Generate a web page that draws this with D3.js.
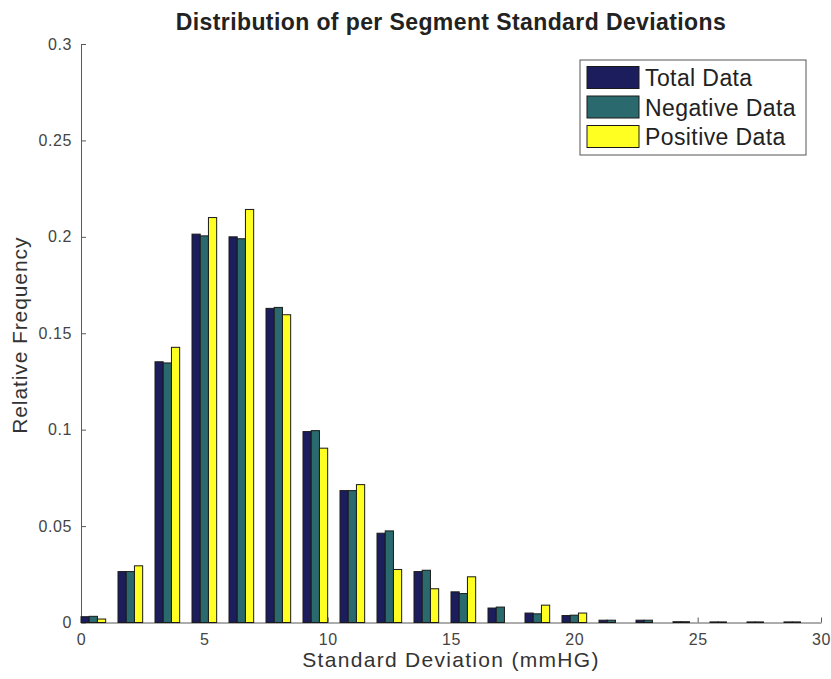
<!DOCTYPE html>
<html>
<head>
<meta charset="utf-8">
<script src="https://cdn.jsdelivr.net/npm/d3@7"></script>
<style>
  html, body { margin: 0; padding: 0; background: #fff; }
  svg { display: block; font-family: "Liberation Sans", Arial, Helvetica, sans-serif; }
</style>
</head>
<body>
<svg id="chart" width="831" height="679"></svg>
<script>
// Histogram bin centres (mmHG)
const binCenters = [0.5, 2, 3.5, 5, 6.5, 8, 9.5, 11, 12.5, 14, 15.5, 17, 18.5, 20, 21.5, 23, 24.5, 26, 27.5, 29];

// Relative frequency per bin for each data set
const totalData    = [0.0030, 0.0264, 0.1352, 0.2014, 0.2000, 0.1629, 0.0990, 0.0684, 0.0463, 0.0264, 0.0159, 0.0075, 0.0049, 0.0036, 0.0012, 0.0012, 0.0004, 0.0003, 0.0003, 0.0003];
const negativeData = [0.0032, 0.0264, 0.1346, 0.2005, 0.1990, 0.1634, 0.0995, 0.0684, 0.0475, 0.0271, 0.0150, 0.0080, 0.0045, 0.0038, 0.0012, 0.0012, 0.0004, 0.0003, 0.0003, 0.0003];
const positiveData = [0.0018, 0.0294, 0.1427, 0.2100, 0.2142, 0.1596, 0.0904, 0.0715, 0.0275, 0.0175, 0.0237, 0.0000, 0.0090, 0.0049, 0.0000, 0.0000, 0.0000, 0.0000, 0.0000, 0.0000];

const seriesNames  = ["Total Data", "Negative Data", "Positive Data"];
const seriesColors = ["#1c1d5c", "#2a6a6e", "#ffff22"];

const xTicks = [0, 5, 10, 15, 20, 25, 30];
const yTicks = [0, 0.05, 0.1, 0.15, 0.2, 0.25, 0.3];

const chartTitle = "Distribution of per Segment Standard Deviations";
const xLabel = "Standard Deviation (mmHG)";
const yLabel = "Relative Frequency";

const series = [totalData, negativeData, positiveData];

const svg = d3.select("#chart");
const plot = { left: 81, right: 821, top: 44, bottom: 622.5 };

const x = d3.scaleLinear().domain([0, 30]).range([plot.left, plot.right]);
const y = d3.scaleLinear().domain([0, 0.3]).range([plot.bottom, plot.top]);

// Offsets of the three bars inside each group, in data units (group width = 1.0)
const offset = d3.scaleBand().domain(d3.range(series.length)).range([-0.5, 0.5]).paddingInner(0);

const axisColor = "#5a5a5a";
const tickTextColor = "#444";

// Y axis (ticks pointing inward)
const yAxis = svg.append("g")
  .attr("transform", `translate(${plot.left},0)`)
  .call(d3.axisLeft(y).tickValues(yTicks).tickFormat(d => d3.format("")(+d.toFixed(2))).tickSize(-5).tickSizeOuter(0).tickPadding(9));

// X axis (ticks pointing inward)
const xAxis = svg.append("g")
  .attr("transform", `translate(0,${plot.bottom})`)
  .call(d3.axisBottom(x).tickValues(xTicks).tickFormat(d3.format("d")).tickSize(-5).tickSizeOuter(0).tickPadding(11));

[yAxis, xAxis].forEach(g => {
  g.select(".domain").attr("stroke", axisColor).attr("stroke-width", 1);
  g.selectAll(".tick line").attr("stroke", axisColor);
  g.selectAll(".tick text").attr("fill", tickTextColor).style("font-size", "16px")
    .style("letter-spacing", "0.6px")
    .style("font-family", "'Liberation Sans', Arial, sans-serif");
});

// Grouped bars
const groups = svg.append("g").attr("class", "bars");
series.forEach((vals, si) => {
  groups.selectAll(`rect.s${si}`)
    .data(vals.map((v, i) => ({ c: binCenters[i], v })))
    .join("rect")
    .attr("class", `s${si}`)
    .attr("x", d => x(d.c + offset(si)))
    .attr("width", d => x(d.c + offset(si) + offset.bandwidth()) - x(d.c + offset(si)))
    .attr("y", d => y(d.v))
    .attr("height", d => y(0) - y(d.v))
    .attr("fill", seriesColors[si])
    .attr("stroke", "#1a1a1a")
    .attr("stroke-width", 1);
});

// Title
svg.append("text")
  .attr("x", 451).attr("y", 30)
  .attr("text-anchor", "middle")
  .attr("fill", "#222")
  .style("font-size", "23px").style("font-weight", "bold").style("letter-spacing", "0.4px")
  .text(chartTitle);

// Axis labels
svg.append("text")
  .attr("x", 451).attr("y", 667)
  .attr("text-anchor", "middle")
  .attr("fill", "#333")
  .style("font-size", "21px").style("letter-spacing", "1.3px")
  .text(xLabel);

svg.append("text")
  .attr("transform", `translate(27,${(plot.top + plot.bottom) / 2 + 2}) rotate(-90)`)
  .attr("text-anchor", "middle")
  .attr("fill", "#333")
  .style("font-size", "21px").style("letter-spacing", "0.9px")
  .text(yLabel);

// Legend
const legend = svg.append("g").attr("transform", "translate(580,60)");
legend.append("rect")
  .attr("width", 226).attr("height", 95)
  .attr("fill", "#fff").attr("stroke", "#555").attr("stroke-width", 1);
seriesNames.forEach((name, i) => {
  const row = legend.append("g").attr("transform", `translate(7,${6.5 + i * 29.5})`);
  row.append("rect").attr("width", 52).attr("height", 22)
    .attr("fill", seriesColors[i]).attr("stroke", "#1a1a1a");
  row.append("text").attr("x", 58).attr("y", 19.5)
    .attr("fill", "#222")
    .style("font-size", "23px").style("letter-spacing", "0.4px")
    .text(name);
});
</script>
</body>
</html>
